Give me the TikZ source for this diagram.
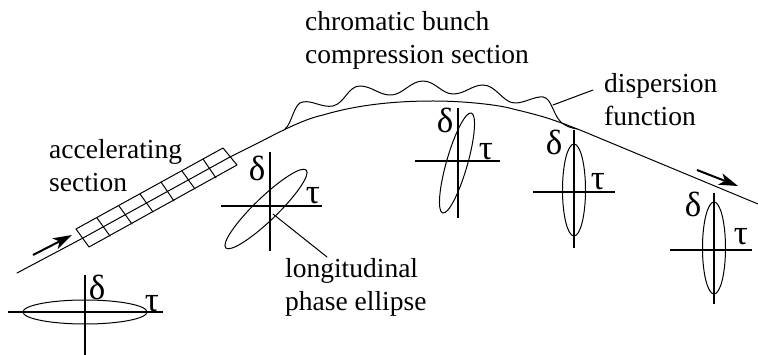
\documentclass[tikz,border=0pt]{standalone}
\usepackage{fontspec}
\setmainfont{Liberation Serif}
\usetikzlibrary{arrows.meta}
\tikzset{
  thin line/.style={line width=1pt,line cap=round,line join=round},
  axis line/.style={line width=1.3pt},
  flow arrow/.style={line width=2pt,-{Stealth[length=19pt,width=12pt,inset=5pt]}},
  label text/.style={font=\fontsize{27.5}{33}\selectfont,align=left,anchor=north west,inner sep=0pt},
  greek/.style={font=\fontsize{35}{35}\selectfont,inner sep=0pt},
}
\begin{document}
\begin{tikzpicture}[x=1pt,y=-1pt]
\useasboundingbox (0,0) rectangle (758,355);
% beam line
\coordinate (bstart) at (17,273);
\coordinate (bend) at (758,204);
\draw[thin line] (bstart) -- (83,238);
\draw[thin line] (230,157) -- (260,142) .. controls (285,129) and (305,119) .. (323,115)
  .. controls (350,107) and (385,101) .. (433,101)
  .. controls (465,101) and (500,105) .. (513,109)
  .. controls (530,113) and (545,117) .. (553,120)
  .. controls (565,124) and (572,127) .. (580,130) -- (bend);
% dispersion
\draw[thin line] (285,129) .. controls (292,124) and (294,102) .. (303,102)
  .. controls (312,100) and (322,108) .. (333,106)
  .. controls (345,103) and (348,86) .. (360,86)
  .. controls (372,86) and (380,96) .. (392,95)
  .. controls (403,94) and (411,81) .. (423,81)
  .. controls (435,81) and (442,94) .. (453,94)
  .. controls (465,94) and (472,85) .. (483,85)
  .. controls (496,85) and (503,103) .. (515,103)
  .. controls (525,103) and (535,96) .. (543,97)
  .. controls (552,98) and (553,116) .. (562,123)
  .. controls (567,127) and (572,128) .. (577,129);
\coordinate (dfrom) at (553,105);
\coordinate (dto) at (593,90);
\draw[thin line] (dfrom) -- (dto);
% accelerating section
\draw[thin line] (76,229) -- (223,148) -- (237,165) -- (89,247) -- cycle;
\draw[thin line] (83,238) -- (230,157);
\foreach \xa/\ya/\xb/\yb in {97/218/110/236,119/206/132/224,140/194/153/212,161/182/174/201,182/171/195/189,203/159/216/178}
  \draw[thin line] (\xa,\ya) -- (\xb,\yb);
% arrows
\draw[flow arrow] (33,255) -- (72,235);
\draw[flow arrow] (697,170) -- (738,186);
% phase plane 1
\draw[axis line] (8,312) -- (163,312);
\draw[axis line] (85,275) -- (85,355);
\draw[thin line] (85,312) ellipse [x radius=62,y radius=12];
\node[greek] (d1) at (97,287) {δ};
\node[greek] (t1) at (152,304) {τ};
% phase plane 2
\draw[axis line] (221,206) -- (322,206);
\draw[axis line] (270,152) -- (270,251);
\draw[thin line,rotate around={44:(266,209)}] (266,209) ellipse [x radius=56,y radius=11.5];
\node[greek] (d2) at (257,168) {δ};
\node[greek] (t2) at (313,196) {τ};
\coordinate (pfrom) at (273,214);
\coordinate (pto) at (327,257);
\draw[thin line] (pfrom) -- (pto);
% phase plane 3
\draw[axis line] (415,161) -- (500,161);
\draw[axis line] (458,108) -- (458,218);
\draw[thin line,rotate around={74:(457,163)}] (457,163) ellipse [x radius=52,y radius=10.5];
\node[greek] (d3) at (445,120) {δ};
\node[greek] (t3) at (486,152) {τ};
% phase plane 4
\draw[axis line] (533,192) -- (615,192);
\draw[axis line] (574,130) -- (574,248);
\draw[thin line] (574,190) ellipse [x radius=11.5,y radius=46];
\node[greek] (d4) at (554,142) {δ};
\node[greek] (t4) at (598,182) {τ};
% phase plane 5
\draw[axis line] (670,250) -- (752,250);
\draw[axis line] (714,193) -- (714,304);
\draw[thin line] (714,248) ellipse [x radius=11.5,y radius=46];
\node[greek] (d5) at (693,204) {δ};
\node[greek] (t5) at (741,237) {τ};
% labels
\node[label text] (chrom) at (305,11) {chromatic bunch\\compression section};
\node[label text] (disp) at (604,73) {dispersion\\function};
\node[label text] (accel) at (49,139) {accelerating\\section};
\node[label text] (phase) at (285,258) {longitudinal\\phase ellipse};
\end{tikzpicture}
\end{document}
